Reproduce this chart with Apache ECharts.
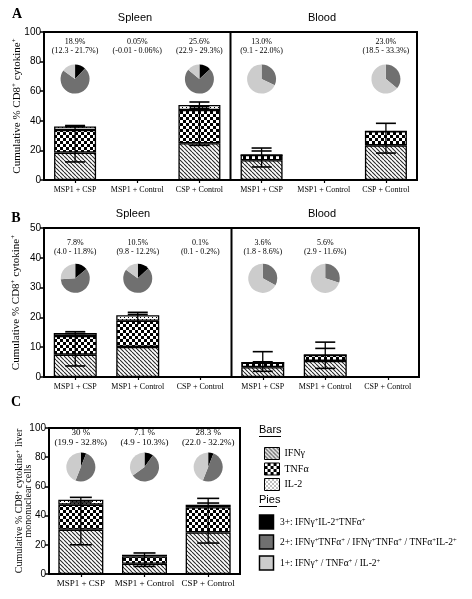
<!DOCTYPE html>
<html><head><meta charset="utf-8">
<script src="https://cdn.jsdelivr.net/npm/echarts@6/dist/echarts.min.js"></script>
<style>html,body{margin:0;padding:0;background:#fff}#c{width:472px;height:599px}</style>
</head><body><div id="c"></div>
<script>
// ---------------- DATA ----------------
const categoriesAB = ['MSP1 + CSP','MSP1 + Control','CSP + Control','MSP1 + CSP','MSP1 + Control','CSP + Control'];
const categoriesC = ['MSP1 + CSP','MSP1 + Control','CSP + Control'];
const ticksA = [0,20,40,60,80,100];
const ticksB = [0,10,20,30,40,50];
const ticksC = [0,20,40,60,80,100];

// Panel A bars (stacked)
const ifnA = [18.5, 0, 24.8, 13.3, 0, 23.4];
const tnfA = [15.3, 0, 22.5, 3.6, 0, 9.5];
const il2A = [2.4, 0, 3.4, 0, 0, 0];
// Panel B bars
const ifnB = [7.5, 10.1, 0.1, 3.3, 5.4, 0];
const tnfB = [6.3, 8.8, 0, 1.5, 2.0, 0];
const il2B = [1.0, 1.8, 0, 0, 0, 0];
// Panel C bars
const ifnC = [30.4, 7.0, 28.5];
const tnfC = [17.1, 5.0, 17.2];
const il2C = [3.4, 1.1, 1.8];

// Error bars: [category, low, high] and caps [category, value]
const errA = [[0,12.2,36.8],[2,23.4,52.7],[3,8.8,21.6],[5,18.2,38.3]];
const capsA = [[0,12.2],[0,36.8],[0,36.0],[2,23.4],[2,52.7],[2,49.8],[2,48.4],[3,8.8],[3,21.6],[3,19.6],[5,18.2],[5,38.3]];
const errB = [[0,3.7,15.2],[1,17.4,21.7],[3,1.9,8.5],[4,2.9,11.7]];
const capsB = [[0,3.7],[0,15.2],[0,14.6],[1,21.7],[1,21.0],[3,1.9],[3,8.5],[3,5.1],[4,2.9],[4,11.7],[4,9.6]];
const errC = [[0,20.0,52.5],[1,5.2,14.4],[2,21.2,51.8]];
const capsC = [[0,20.0],[0,52.5],[0,49.3],[1,5.2],[1,14.4],[2,21.2],[2,51.8],[2,48.6]];

// Pies: share of 3+, 2+, 1+ (percent)
const pieCatsA = [0,2,3,5];
const pie3A = [12,13,0,0];
const pie2A = [73,73,32,36];
const pie1A = [15,14,68,64];
const pieCatsB = [0,1,3,4];
const pie3B = [14,13,0,0];
const pie2B = [60,72,33,30];
const pie1B = [26,15,67,70];
const pieCatsC = [0,1,2];
const pie3C = [6,10,6];
const pie2C = [50,55,50];
const pie1C = [44,35,44];

// Annotations
const noteCatsA = [0,1,2,3,5];
const pctA = ['18.9%','0.05%','25.6%','13.0%','23.0%'];
const rangeA = ['(12.3 - 21.7%)','(-0.01 - 0.06%)','(22.9 - 29.3%)','(9.1 - 22.0%)','(18.5 - 33.3%)'];
const noteCatsB = [0,1,2,3,4];
const pctB = ['7.8%','10.5%','0.1%','3.6%','5.6%'];
const rangeB = ['(4.0 - 11.8%)','(9.8 - 12.2%)','(0.1 - 0.2%)','(1.8 - 8.6%)','(2.9 - 11.6%)'];
const noteCatsC = [0,1,2];
const pctC = ['30 %','7.1 %','28.3 %'];
const rangeC = ['(19.9 - 32.8%)','(4.9 - 10.3%)','(22.0 - 32.2%)'];

const barNames = ['IFNγ','TNFα','IL-2'];

// ---------------- STYLE ----------------
const SERIF = "'Liberation Serif','Times New Roman',serif";
const SANS = "'Liberation Sans',Arial,sans-serif";
const NARROW = "'Liberation Sans Narrow','Liberation Sans',Arial,sans-serif";
const C3 = '#000000', C2 = '#707070', C1 = '#cccccc';

function mk(s, draw){ const c=document.createElement('canvas'); c.width=c.height=s; const g=c.getContext('2d'); draw(g,s); return c; }
const hatch = mk(4,(g,s)=>{g.fillStyle='#fff';g.fillRect(0,0,s,s);g.strokeStyle='#2a2a2a';g.lineWidth=1.1;g.beginPath();
  for(let k=-s;k<=s;k+=s){g.moveTo(k,0);g.lineTo(k+s,s);} g.stroke();});
const checker = mk(6,(g,s)=>{g.fillStyle='#000';g.fillRect(0,0,s,s);g.fillStyle='#fff';g.fillRect(0,0,3,3);g.fillRect(3,3,3,3);});
const dots = mk(4,(g,s)=>{g.fillStyle='#fff';g.fillRect(0,0,s,s);g.fillStyle='#000';g.fillRect(0,1,1,1);g.fillRect(2,3,1,1);});
const pats = [{image:hatch,repeat:'repeat'},{image:checker,repeat:'repeat'},{image:dots,repeat:'repeat'}];

const grids = [
  {left:44, top:32, width:373, height:148, show:true, borderColor:'#000', borderWidth:2},
  {left:44, top:228, width:375, height:149, show:true, borderColor:'#000', borderWidth:2},
  {left:49, top:428, width:191, height:146, show:true, borderColor:'#000', borderWidth:2}
];

function xAxis(gi, cats, fs, margin){
  return {type:'category', gridIndex:gi, data:cats,
    axisLine:{lineStyle:{color:'#000', width:2}},
    axisTick:{show:true, alignWithLabel:true, length:3, lineStyle:{color:'#000', width:1.2}},
    axisLabel:{interval:0, color:'#000', fontFamily:SERIF, fontSize:fs, margin:margin}};
}
const supRich = (fs,lh)=>({t:{fontFamily:SERIF, fontSize:fs, lineHeight:lh, color:'#000'}, s:{fontFamily:SERIF, fontSize:Math.round(fs*0.65), lineHeight:lh, color:'#000', verticalAlign:'top'}});
function yAxis(gi, ticks, name, gap, fs, lh){
  return {type:'value', gridIndex:gi, min:ticks[0], max:ticks[ticks.length-1], interval:ticks[1]-ticks[0],
    axisLine:{show:true, lineStyle:{color:'#000', width:2}},
    axisTick:{show:true, length:4, lineStyle:{color:'#000', width:1.5}},
    splitLine:{show:false},
    axisLabel:{color:'#000', fontFamily:NARROW, fontSize:10, margin:3},
    name:name, nameLocation:'middle', nameGap:gap, nameRotate:90, nameMoveOverlap:false,
    nameTextStyle:{rich:supRich(fs,lh), lineHeight:lh}};
}

function barSeries(gi, vals, width){
  return vals.map((v,k)=>({type:'bar', name:barNames[k], xAxisIndex:gi, yAxisIndex:gi, stack:'s'+gi, data:v, barWidth:width,
    itemStyle:{color:pats[k], borderColor:'#000', borderWidth:1.3}, silent:true, z:2}));
}
function errSeries(gi, err, caps, capW){
  return [
    {type:'custom', xAxisIndex:gi, yAxisIndex:gi, data:err, encode:{x:0,y:[1,2]}, z:5, silent:true,
      renderItem:(p,api)=>{const a=api.coord([api.value(0),api.value(1)]), b=api.coord([api.value(0),api.value(2)]);
        return {type:'line', shape:{x1:a[0],y1:a[1],x2:b[0],y2:b[1]}, style:{stroke:'#000', lineWidth:1.3}};}},
    {type:'custom', xAxisIndex:gi, yAxisIndex:gi, data:caps, encode:{x:0,y:1}, z:5, silent:true,
      renderItem:(p,api)=>{const a=api.coord([api.value(0),api.value(1)]);
        return {type:'line', shape:{x1:a[0]-capW/2,y1:a[1],x2:a[0]+capW/2,y2:a[1]}, style:{stroke:'#000', lineWidth:1.6}};}}
  ];
}
function noteSeries(gi, cats, pct, rng, yVal, fs, lh){
  return {type:'custom', xAxisIndex:gi, yAxisIndex:gi, data:cats.map(c=>[c]), encode:{x:0}, z:6, silent:true,
    renderItem:(p,api)=>{
      const ctr = api.coord([api.value(0), yVal]); const i = p.dataIndex;
      return {type:'text', x:ctr[0], y:ctr[1], style:{text:pct[i]+'\n'+rng[i], align:'center', verticalAlign:'middle',
        fontFamily:SERIF, fontSize:fs, lineHeight:lh, fill:'#000'}};
    }};
}
function dividerSeries(gi, c1, c2){
  return {type:'custom', xAxisIndex:gi, yAxisIndex:gi, data:[[c1]], encode:{x:0}, z:6, silent:true,
    renderItem:(p,api)=>{
      const a = api.coord([c1, 0]), b = api.coord([c2, 0]); const x=(a[0]+b[0])/2; const cs=p.coordSys;
      return {type:'line', shape:{x1:x,y1:cs.y,x2:x,y2:cs.y+cs.height}, style:{stroke:'#000', lineWidth:2}};
    }};
}

const nameAB = '{t|Cumulative % CD8}{s|+}{t| cytokine}{s|+}';
const nameC = '{t|Cumulative % CD8}{s|+}{t| cytokine}{s|+}{t| liver}\n{t|mononuclear cells}';

const series = [].concat(
  barSeries(0,[ifnA,tnfA,il2A],42), errSeries(0,errA,capsA,20),
  noteSeries(0,noteCatsA,pctA,rangeA,90.2,8,9), dividerSeries(0,2,3),
  barSeries(1,[ifnB,tnfB,il2B],43), errSeries(1,errB,capsB,20),
  noteSeries(1,noteCatsB,pctB,rangeB,43.4,8,9), dividerSeries(1,2,3),
  barSeries(2,[ifnC,tnfC,il2C],45), errSeries(2,errC,capsC,22),
  noteSeries(2,noteCatsC,pctC,rangeC,93.2,9,10)
);

const legRich = {t:{fontFamily:SERIF, fontSize:9.5, color:'#000'}, s:{fontFamily:SERIF, fontSize:6.5, color:'#000', verticalAlign:'top'}};
function txt(x,y,text,font,extra){ return {type:'text', x:x, y:y, style:Object.assign({text:text, fill:'#000', align:'center', verticalAlign:'middle', font:font}, extra||{})}; }
const pieLegend = [
  {col:C3, y:522, t:'{t|3+: IFNγ}{s|+}{t|IL-2}{s|+}{t|TNFα}{s|+}'},
  {col:C2, y:542, t:'{t|2+: IFNγ}{s|+}{t|TNFα}{s|+}{t| / IFNγ}{s|+}{t|TNFα}{s|+}{t| / TNFα}{s|+}{t|IL-2}{s|+}'},
  {col:C1, y:563, t:'{t|1+: IFNγ}{s|+}{t| / TNFα}{s|+}{t| / IL-2}{s|+}'}
];
const graphic = [
  txt(17,14,'A','bold 14px '+SERIF), txt(16,218,'B','bold 14px '+SERIF), txt(16,402,'C','bold 14px '+SERIF),
  txt(135,18,'Spleen','11px '+SANS), txt(322,18,'Blood','11px '+SANS),
  txt(133,214,'Spleen','11px '+SANS), txt(322,214,'Blood','11px '+SANS),
  txt(259,430,'Bars','11px '+SANS,{align:'left'}),
  {type:'line', shape:{x1:259,y1:436.5,x2:281,y2:436.5}, style:{stroke:'#000', lineWidth:1}},
  txt(259,500,'Pies','11px '+SANS,{align:'left'}),
  {type:'line', shape:{x1:259,y1:506.5,x2:277,y2:506.5}, style:{stroke:'#000', lineWidth:1}}
];
pieLegend.forEach(it=>{
  graphic.push({type:'rect', shape:{x:259.5, y:it.y-7, width:14, height:14}, style:{fill:it.col, stroke:'#000', lineWidth:1.5}});
  graphic.push({type:'text', x:280, y:it.y, style:{text:it.t, rich:legRich, align:'left', verticalAlign:'middle', fill:'#000'}});
});

const option = {
  animation:false, backgroundColor:'#fff',
  grid:grids,
  xAxis:[xAxis(0,categoriesAB,8,6), xAxis(1,categoriesAB,8,6), xAxis(2,categoriesC,9,5)],
  yAxis:[yAxis(0,ticksA,nameAB,20,11,13), yAxis(1,ticksB,nameAB,21,11,13), yAxis(2,ticksC,nameC,16,10,9)],
  legend:{orient:'vertical', left:259, top:442, itemWidth:15, itemHeight:12, itemGap:2.5, icon:'rect', selectedMode:false,
    data:barNames, itemStyle:{borderColor:'#000', borderWidth:1}, textStyle:{fontFamily:SERIF, fontSize:10, color:'#000'}},
  graphic:graphic,
  series:series
};
const chart = echarts.init(document.getElementById('c'));
chart.setOption(option);

// Pies placed through the axes' own scales
function pies(gi, cats, p3, p2, p1, yVal, r){
  return cats.map((c,i)=>{
    const ctr = chart.convertToPixel({gridIndex:gi}, [c, yVal]);
    return {type:'pie', center:ctr, radius:r, startAngle:90, clockwise:true, silent:true, z:4,
      label:{show:false}, labelLine:{show:false}, itemStyle:{borderWidth:0},
      data:[{name:'3+', value:p3[i], itemStyle:{color:C3}}, {name:'2+', value:p2[i], itemStyle:{color:C2}}, {name:'1+', value:p1[i], itemStyle:{color:C1}}]};
  });
}
const allSeries = series.concat(
  pies(0,pieCatsA,pie3A,pie2A,pie1A,68.2,14.5),
  pies(1,pieCatsB,pie3B,pie2B,pie1B,33.1,14.5),
  pies(2,pieCatsC,pie3C,pie2C,pie1C,73.3,14.5)
);
chart.setOption({series:allSeries});
</script></body></html>
